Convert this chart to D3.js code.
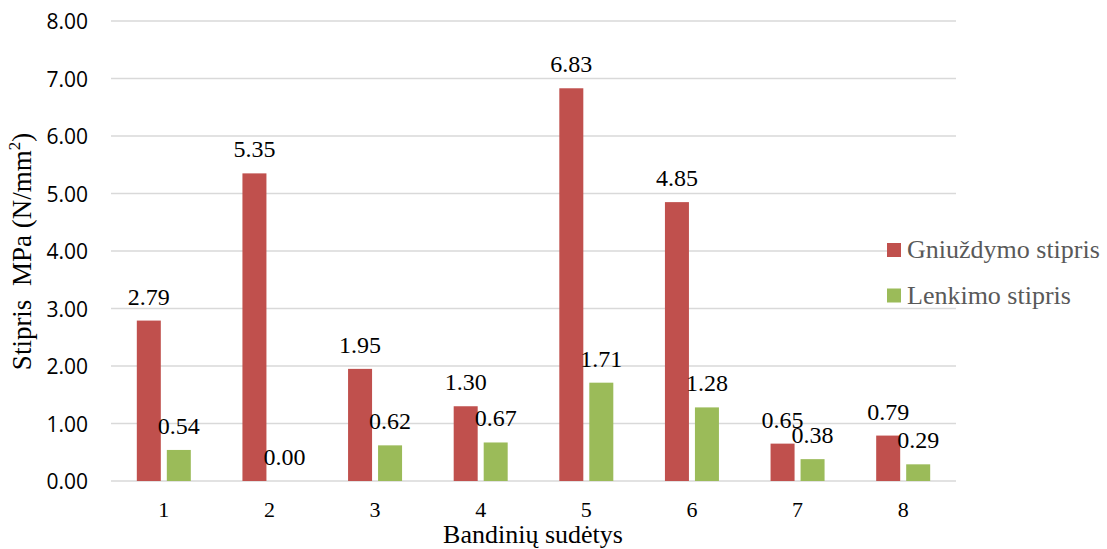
<!DOCTYPE html>
<html>
<head>
<meta charset="utf-8">
<script src="https://cdn.jsdelivr.net/npm/d3@7"></script>
<style>
  html, body { margin: 0; padding: 0; background: #fff; }
  svg { display: block; }
</style>
</head>
<body>
<svg id="chart" width="1107" height="549"></svg>
<script>
// Sample mixes and their measured strengths (MPa)
const categories = ["1", "2", "3", "4", "5", "6", "7", "8"];
const compressive = [2.79, 5.35, 1.95, 1.30, 6.83, 4.85, 0.65, 0.79];
const flexural = [0.54, 0.00, 0.62, 0.67, 1.71, 1.28, 0.38, 0.29];
const seriesNames = ["Gniuždymo stipris", "Lenkimo stipris"];
const seriesColors = ["#C0504D", "#9BBB59"];
const yTicks = [0, 1, 2, 3, 4, 5, 6, 7, 8];

const seriesValues = [compressive, flexural];
const rows = categories.map((c, i) => ({
  cat: c,
  vals: seriesNames.map((s, k) => ({ series: s, k, value: seriesValues[k][i] }))
}));

const svg = d3.select("#chart");
const plot = { left: 111, right: 956, top: 21, bottom: 481 };

const y = d3.scaleLinear().domain([0, 8]).range([plot.bottom, plot.top]);
const x0 = d3.scaleBand().domain(categories).range([plot.left, plot.right]).padding(0);
const half = x0.bandwidth() / 2;
const x1 = d3.scaleBand().domain(seriesNames)
  .range([half - 27, half + 27]).paddingInner(0.2).paddingOuter(0);

const serif = "'Liberation Serif', 'Times New Roman', serif";
const sans = "'Open Sans', 'Noto Sans', sans-serif";

// Horizontal gridlines
svg.append("g")
  .selectAll("line")
  .data(yTicks)
  .join("line")
  .attr("x1", plot.left).attr("x2", plot.right)
  .attr("y1", d => y(d)).attr("y2", d => y(d))
  .attr("stroke", "#D9D9D9").attr("stroke-width", 1.5);

// Y axis tick labels
const yAxis = d3.axisLeft(y).tickValues(yTicks).tickFormat(d3.format(".2f")).tickSize(0).tickPadding(0);
const yg = svg.append("g").attr("transform", "translate(88,0)").call(yAxis);
yg.select(".domain").remove();
yg.selectAll("text")
  .attr("font-family", sans).attr("font-size", 21).attr("fill", "#000")
  .attr("dy", "0.36em");

// X axis category labels
const xAxis = d3.axisBottom(x0).tickSize(0).tickPadding(0);
const xg = svg.append("g").attr("transform", `translate(0,${plot.bottom})`).call(xAxis);
xg.select(".domain").remove();
xg.selectAll("text")
  .attr("font-family", serif).attr("font-size", 22).attr("fill", "#000")
  .attr("y", 36).attr("dy", 0);

// Bars
const groups = svg.append("g")
  .selectAll("g")
  .data(rows)
  .join("g")
  .attr("transform", d => `translate(${x0(d.cat)},0)`);

groups.selectAll("rect")
  .data(d => d.vals)
  .join("rect")
  .attr("x", d => x1(d.series))
  .attr("width", x1.bandwidth())
  .attr("y", d => y(d.value))
  .attr("height", d => y(0) - y(d.value))
  .attr("fill", d => seriesColors[d.k]);

// Value labels
groups.selectAll("text")
  .data(d => d.vals)
  .join("text")
  .attr("x", d => x1(d.series) + x1.bandwidth() / 2)
  .attr("y", d => y(d.value) - 16)
  .attr("text-anchor", "middle")
  .attr("font-family", serif).attr("font-size", 24).attr("fill", "#000")
  .text(d => d3.format(".2f")(d.value));

// Axis titles
const yTitle = svg.append("text")
  .attr("transform", "translate(31,251.5) rotate(-90)")
  .attr("text-anchor", "middle")
  .attr("font-family", serif).attr("font-size", 27).attr("fill", "#000");
yTitle.append("tspan").text("Stipris\u00A0\u00A0MPa (N/mm");
yTitle.append("tspan").attr("font-size", 17).attr("dy", -11).text("2");
yTitle.append("tspan").attr("dy", 11).text(")");

svg.append("text")
  .attr("x", 533).attr("y", 543)
  .attr("text-anchor", "middle")
  .attr("font-family", serif).attr("font-size", 26).attr("fill", "#000")
  .text("Bandinių sudėtys");

// Legend
svg.append("rect")
  .attr("x", 898).attr("y", 230).attr("width", 209).attr("height", 75)
  .attr("fill", "#fff");
const legend = svg.append("g")
  .selectAll("g")
  .data(seriesNames)
  .join("g")
  .attr("transform", (d, i) => `translate(887,${250 + i * 45.5})`);
legend.append("rect")
  .attr("x", 0).attr("y", -7).attr("width", 14).attr("height", 14)
  .attr("fill", (d, i) => seriesColors[i]);
legend.append("text")
  .attr("x", 20).attr("y", 8)
  .attr("font-family", serif).attr("font-size", 26).attr("fill", "#595959")
  .text(d => d);
</script>
</body>
</html>
